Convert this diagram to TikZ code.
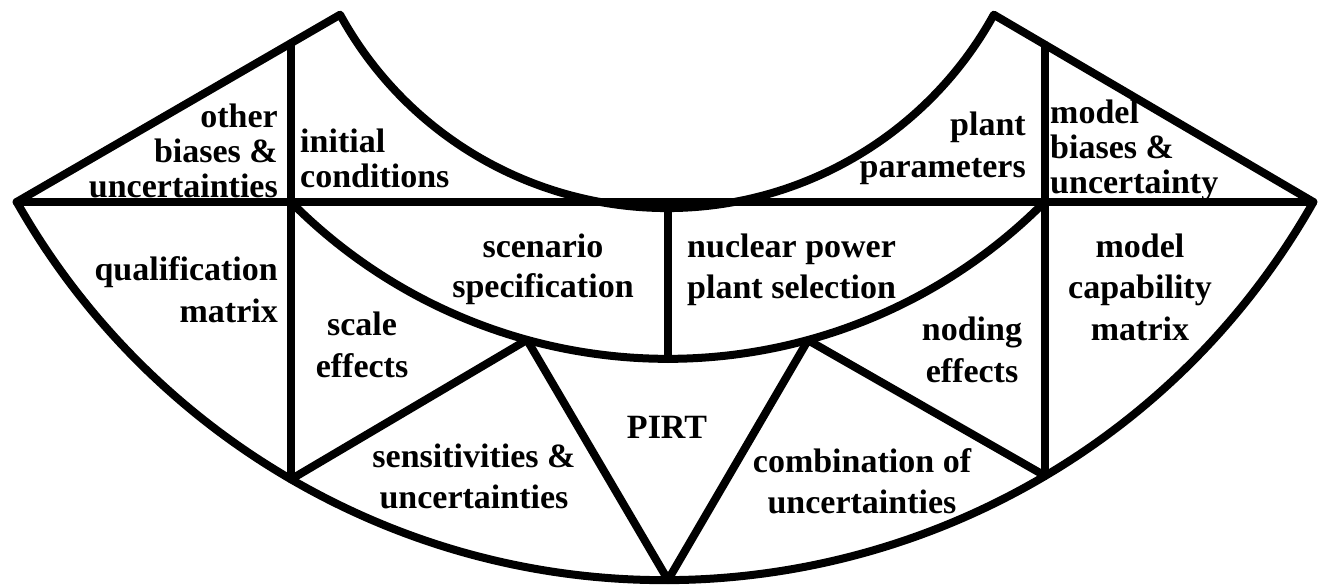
\documentclass[tikz,border=0pt]{standalone}
\usepackage{fontspec}
\setmainfont{Liberation Serif}
\begin{document}
\begin{tikzpicture}[x=1pt,y=-1pt,
  edge/.style={line width=8pt,line join=round,line cap=round},
  lbl/.style={inner sep=0pt,font=\bfseries\fontsize{34}{#1}\selectfont},
  lbl/.default=41]
  % page frame
  \fill[white] (0,0) rectangle (1318,587);
  \useasboundingbox (0,0) rectangle (1318,587);

  % key points of the fan
  \coordinate (tipL) at (16.6,202);
  \coordinate (tipR) at (1313.4,202);
  \coordinate (inL)  at (340.1,14.7);
  \coordinate (inR)  at (993.9,14.7);
  \coordinate (mL)   at (291,202);
  \coordinate (mR)   at (1045,202);
  \coordinate (vLt)  at (291,43.1);
  \coordinate (vLb)  at (291,479.3);
  \coordinate (vRt)  at (1045,44.7);
  \coordinate (vRb)  at (1045,475.8);
  \coordinate (cTop) at (668,202);
  \coordinate (cBot) at (668,359);
  \coordinate (M1)   at (527,339.9);
  \coordinate (M2)   at (808,340.2);
  \coordinate (B)    at (668,580);

  % outline: inner arc on top, outer arc below
  \draw[edge] (tipL) -- (inL)
    arc[start angle=151.2,end angle=28.8,radius=373] -- (tipR)
    arc[start angle=29.51,end angle=150.49,radius=745] -- cycle;
  % horizontal chord
  \draw[edge] (tipL) -- (tipR);
  % middle arc
  \draw[edge] (mL) arc[start angle=135.2,end angle=44.8,radius=531];
  % vertical dividers
  \draw[edge] (vLt) -- (vLb);
  \draw[edge] (vRt) -- (vRb);
  \draw[edge] (cTop) -- (cBot);
  % zig-zag of triangles
  \draw[edge] (vLb) -- (M1) -- (B) -- (M2) -- (vRb);

  % labels (placed at the baseline of their last line)
  \node[lbl=35,align=right,anchor=base east] (obu) at (278,197) {other\\biases \&\\uncertainties};
  \node[lbl=35,align=left,anchor=base west] (ic) at (300,187) {initial\\conditions};
  \node[lbl=42,align=right,anchor=base east] (pp) at (1026,177) {plant\\parameters};
  \node[lbl=35,align=left,anchor=base west] (mbu) at (1050,193) {model\\biases \&\\uncertainty};
  \node[lbl=42,align=right,anchor=base east] (qm) at (278,322) {qualification\\matrix};
  \node[lbl=40,align=center,anchor=base] (ss) at (543,297) {scenario\\specification};
  \node[lbl=41,align=left,anchor=base west] (npp) at (687,298) {nuclear power\\plant selection};
  \node[lbl=42,align=center,anchor=base] (se) at (362,377) {scale\\effects};
  \node[lbl=42,align=center,anchor=base] (ne) at (972,382) {noding\\effects};
  \node[lbl=41.5,align=center,anchor=base] (mcm) at (1140,340) {model\\capability\\matrix};
  \node[lbl,anchor=base] (pirt) at (667,438) {PIRT};
  \node[lbl=41,align=center,anchor=base] (su) at (474,508) {sensitivities \&\\uncertainties};
  \node[lbl=41,align=center,anchor=base] (cu) at (862,513) {combination of\\uncertainties};
\end{tikzpicture}
\end{document}
